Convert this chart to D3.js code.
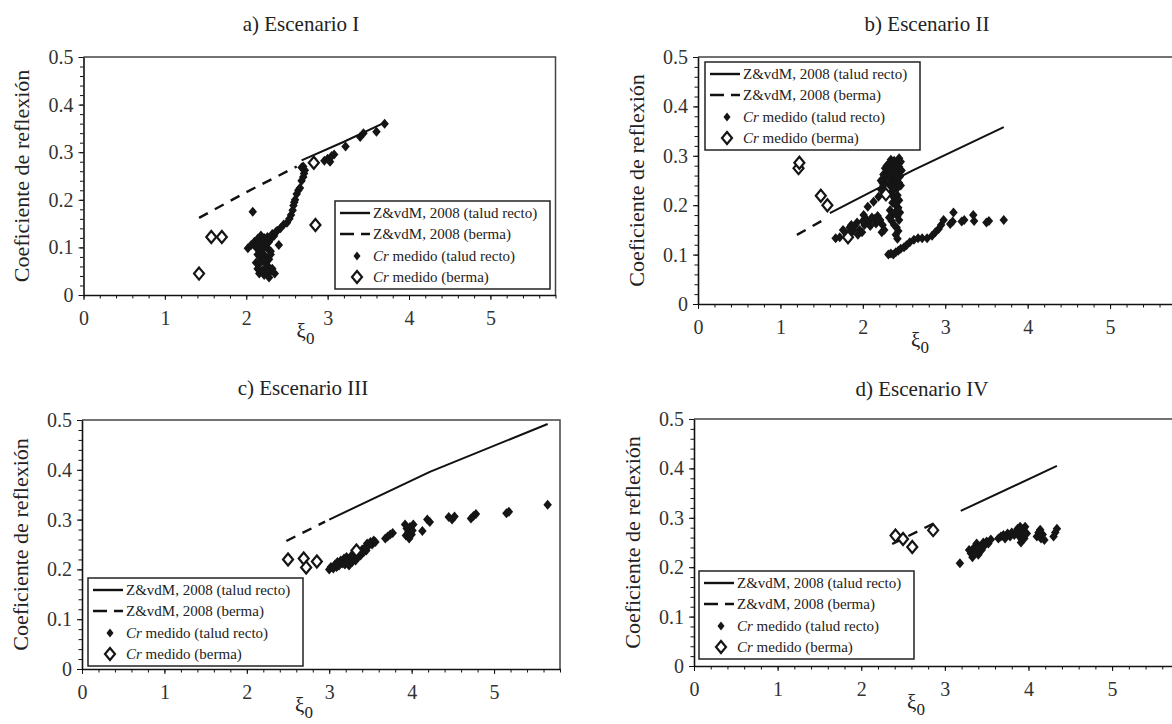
<!DOCTYPE html>
<html>
<meta charset="utf-8">
<style>
body { margin: 0; background: #fff; }
text { font-family: "Liberation Serif", "Times New Roman", serif; fill: #222; }
.axis path, .axis line { stroke: #111; }
.axis text { font-size: 20px; fill: #333; font-family: "Liberation Serif", serif; }
</style>
<svg width="1172" height="724"></svg>
<script src="https://d3js.org/d3.v7.min.js"></script>
<script>
// ---- data (xi_0, Cr) ----
var xMajor = [0, 1, 2, 3, 4, 5];
var yMajor = [0, 0.1, 0.2, 0.3, 0.4, 0.5];
var legendLabels = ["Z&vdM, 2008 (talud recto)", "Z&vdM, 2008 (berma)", "medido (talud recto)", "medido (berma)"];

// a) Escenario I
var aLineRecto = [[2.68, 0.283], [3.20, 0.322], [3.70, 0.362]];
var aLineBerma = [[1.42, 0.162], [2.00, 0.216], [2.62, 0.270]];
var aBerma = [[1.42, 0.045], [1.57, 0.122], [1.70, 0.122], [2.85, 0.147], [2.83, 0.278]];
var aRecto = [
  [2.08, 0.175],
  [2.02, 0.098], [2.06, 0.105], [2.10, 0.112], [2.12, 0.100], [2.14, 0.118], [2.16, 0.108], [2.18, 0.125],
  [2.20, 0.115], [2.22, 0.120], [2.24, 0.110], [2.26, 0.122], [2.28, 0.112], [2.30, 0.118], [2.32, 0.128],
  [2.34, 0.124], [2.36, 0.132], [2.38, 0.135], [2.40, 0.105], [2.18, 0.095], [2.22, 0.100], [2.26, 0.098], [2.30, 0.092],
  [2.14, 0.085], [2.17, 0.078], [2.20, 0.088], [2.24, 0.080], [2.28, 0.075], [2.30, 0.085], [2.12, 0.068],
  [2.16, 0.065], [2.22, 0.070], [2.26, 0.062],
  [2.14, 0.055], [2.16, 0.045], [2.20, 0.052], [2.22, 0.042], [2.25, 0.058], [2.27, 0.048], [2.28, 0.037],
  [2.30, 0.050], [2.32, 0.055], [2.35, 0.045], [2.24, 0.050],
  [2.42, 0.140], [2.46, 0.148], [2.50, 0.152], [2.53, 0.160], [2.55, 0.168], [2.57, 0.178], [2.58, 0.188],
  [2.59, 0.195], [2.60, 0.200], [2.62, 0.212], [2.64, 0.220], [2.66, 0.225], [2.68, 0.240], [2.70, 0.248],
  [2.71, 0.255], [2.72, 0.262], [2.70, 0.270], [2.68, 0.268],
  [2.96, 0.282], [3.00, 0.286], [3.03, 0.280], [3.05, 0.292], [3.08, 0.295], [3.22, 0.312], [3.40, 0.332],
  [3.44, 0.340], [3.60, 0.343], [3.70, 0.360]
];

// b) Escenario II
var bLineRecto = [[1.60, 0.184], [2.60, 0.270], [3.71, 0.358]];
var bLineBerma = [[1.20, 0.140], [1.52, 0.170]];
var bBerma = [[1.22, 0.275], [1.23, 0.286], [1.49, 0.219], [1.57, 0.200], [1.82, 0.135], [2.28, 0.222]];
var bRecto = [
  [1.67, 0.133], [1.72, 0.135], [1.76, 0.150], [1.80, 0.142], [1.84, 0.155], [1.88, 0.148], [1.90, 0.158],
  [1.93, 0.165], [1.96, 0.150], [1.99, 0.145], [2.02, 0.160], [2.05, 0.170], [2.08, 0.167], [2.11, 0.175],
  [2.14, 0.172], [2.18, 0.178], [2.21, 0.170], [2.24, 0.160], [2.26, 0.150], [2.23, 0.145],
  [1.86, 0.160], [1.94, 0.140], [2.00, 0.168], [2.09, 0.158], [2.16, 0.163],
  [2.01, 0.180], [2.06, 0.197], [2.13, 0.207], [2.19, 0.217], [2.22, 0.232], [2.24, 0.245], [2.26, 0.252],
  [2.28, 0.258], [2.30, 0.265], [2.22, 0.250], [2.25, 0.262], [2.27, 0.275], [2.29, 0.280], [2.25, 0.240],
  [2.32, 0.285], [2.34, 0.292], [2.36, 0.280], [2.38, 0.290], [2.40, 0.275], [2.42, 0.285], [2.44, 0.295], [2.46, 0.288],
  [2.31, 0.270], [2.33, 0.262], [2.35, 0.255], [2.37, 0.265], [2.39, 0.250], [2.41, 0.260], [2.43, 0.268],
  [2.45, 0.258], [2.47, 0.270], [2.36, 0.272], [2.40, 0.262], [2.44, 0.278],
  [2.32, 0.245], [2.34, 0.238], [2.36, 0.240], [2.38, 0.232], [2.40, 0.240], [2.42, 0.235], [2.44, 0.245], [2.46, 0.240],
  [2.34, 0.225], [2.38, 0.215], [2.42, 0.220], [2.44, 0.210], [2.36, 0.205], [2.40, 0.200], [2.43, 0.195],
  [2.33, 0.190], [2.36, 0.180], [2.39, 0.185], [2.42, 0.178], [2.44, 0.170], [2.35, 0.168], [2.38, 0.160],
  [2.41, 0.155], [2.43, 0.148], [2.40, 0.140], [2.42, 0.132], [2.32, 0.175], [2.45, 0.185],
  [2.31, 0.100], [2.34, 0.102], [2.37, 0.100], [2.40, 0.105], [2.43, 0.108], [2.46, 0.112], [2.50, 0.115],
  [2.53, 0.119], [2.57, 0.125], [2.62, 0.130], [2.67, 0.133], [2.72, 0.133], [2.78, 0.133], [2.84, 0.138],
  [2.88, 0.145], [2.92, 0.152], [2.95, 0.160], [2.98, 0.170], [3.06, 0.162], [3.10, 0.185], [3.09, 0.167],
  [3.20, 0.167], [3.23, 0.170], [3.34, 0.180], [3.35, 0.168], [3.50, 0.165], [3.53, 0.168], [3.71, 0.170]
];

// c) Escenario III
var cLineRecto = [[3.00, 0.300], [4.22, 0.396], [5.65, 0.492]];
var cLineBerma = [[2.48, 0.257], [2.95, 0.296]];
var cBerma = [[2.50, 0.220], [2.69, 0.222], [2.72, 0.204], [2.85, 0.216], [3.33, 0.238]];
var cRecto = [
  [3.00, 0.200], [3.02, 0.205], [3.05, 0.202], [3.07, 0.210], [3.09, 0.205], [3.10, 0.215], [3.12, 0.208],
  [3.14, 0.218], [3.16, 0.212], [3.18, 0.222], [3.19, 0.210], [3.21, 0.225], [3.22, 0.215], [3.24, 0.208],
  [3.25, 0.220], [3.27, 0.228], [3.28, 0.215], [3.30, 0.225], [3.32, 0.218], [3.33, 0.232], [3.35, 0.225],
  [3.37, 0.235], [3.38, 0.228], [3.40, 0.240], [3.42, 0.235], [3.44, 0.245], [3.45, 0.238], [3.46, 0.252],
  [3.48, 0.248], [3.50, 0.255], [3.52, 0.250], [3.54, 0.258], [3.56, 0.255],
  [3.68, 0.262], [3.71, 0.266], [3.74, 0.270], [3.77, 0.273],
  [3.92, 0.290], [3.94, 0.282], [3.96, 0.275], [3.93, 0.268], [3.97, 0.262], [4.00, 0.270], [3.98, 0.285],
  [4.01, 0.278], [4.02, 0.290],
  [4.13, 0.277], [4.19, 0.300], [4.22, 0.295],
  [4.45, 0.305], [4.49, 0.300], [4.52, 0.306],
  [4.72, 0.302], [4.75, 0.307], [4.78, 0.311],
  [5.15, 0.313], [5.18, 0.316],
  [5.65, 0.330]
];

// d) Escenario IV
var dLineRecto = [[3.19, 0.314], [4.34, 0.405]];
var dLineBerma = [[2.37, 0.247], [2.92, 0.293]];
var dBerma = [[2.41, 0.264], [2.50, 0.257], [2.61, 0.241], [2.86, 0.275]];
var dRecto = [
  [3.18, 0.208],
  [3.29, 0.235], [3.31, 0.228], [3.33, 0.220], [3.35, 0.240], [3.37, 0.232], [3.38, 0.248], [3.40, 0.225],
  [3.42, 0.242], [3.44, 0.235], [3.46, 0.250], [3.48, 0.245], [3.50, 0.252], [3.52, 0.248], [3.55, 0.256],
  [3.64, 0.258], [3.67, 0.262], [3.70, 0.265], [3.72, 0.258], [3.75, 0.268], [3.78, 0.262], [3.80, 0.270],
  [3.83, 0.265], [3.85, 0.272], [3.87, 0.278], [3.89, 0.262], [3.90, 0.282], [3.91, 0.250], [3.92, 0.270],
  [3.94, 0.278], [3.95, 0.258], [3.96, 0.282], [3.98, 0.268],
  [4.10, 0.262], [4.12, 0.270], [4.14, 0.276], [4.15, 0.258], [4.17, 0.266], [4.19, 0.255],
  [4.30, 0.262], [4.32, 0.270], [4.34, 0.278]
];

var panels = [
  {title: "a) Escenario I", left: 83.5, top: 57, width: 472, height: 238, tx: 301, ty: 31,
   lx: 335, ly: 201, recto: aRecto, berma: aBerma, lRecto: aLineRecto, lBerma: aLineBerma},
  {title: "b) Escenario II", left: 698, top: 57, width: 478, height: 247, tx: 927, ty: 31,
   lx: 705, ly: 62, recto: bRecto, berma: bBerma, lRecto: bLineRecto, lBerma: bLineBerma},
  {title: "c) Escenario III", left: 82, top: 420, width: 478, height: 249, tx: 303, ty: 395,
   lx: 88, ly: 578, recto: cRecto, berma: cBerma, lRecto: cLineRecto, lBerma: cLineBerma},
  {title: "d) Escenario IV", left: 694, top: 419, width: 485, height: 247, tx: 922, ty: 396,
   lx: 699, ly: 571, recto: dRecto, berma: dBerma, lRecto: dLineRecto, lBerma: dLineBerma}
];

var svg = d3.select("svg");
var serif = '"Liberation Serif", "Times New Roman", serif';

// diamond of given width/height for d3.symbol
function diamond(w, h) {
  return {draw: function(ctx) {
    ctx.moveTo(0, -h / 2); ctx.lineTo(w / 2, 0); ctx.lineTo(0, h / 2); ctx.lineTo(-w / 2, 0); ctx.closePath();
  }};
}
var filledSym = d3.symbol().type(diamond(8.5, 10));
var openSym = d3.symbol().type(diamond(10, 12));

function drawPanel(p) {
  var x = d3.scaleLinear().domain([0, 5.8]).range([p.left, p.left + p.width]);
  var y = d3.scaleLinear().domain([0, 0.5]).range([p.top + p.height, p.top]);
  var g = svg.append("g");

  // frame (top + right)
  g.append("path")
    .attr("d", "M" + x(0) + "," + y(0.5) + "H" + x(5.8) + "V" + y(0))
    .attr("fill", "none").attr("stroke", "#444").attr("stroke-width", 1.5);

  // minor ticks
  g.append("g").attr("class", "axis")
    .attr("transform", "translate(0," + y(0) + ")")
    .call(d3.axisBottom(x).tickValues(d3.range(0, 5.81, 0.2)).tickSize(3.5).tickFormat(""))
    .call(function(s) { s.select(".domain").remove(); });
  g.append("g").attr("class", "axis")
    .attr("transform", "translate(" + x(0) + ",0)")
    .call(d3.axisLeft(y).tickValues(d3.range(0, 0.501, 0.02)).tickSize(3.5).tickFormat(""))
    .call(function(s) { s.select(".domain").remove(); });

  // major axes
  g.append("g").attr("class", "axis")
    .attr("transform", "translate(0," + y(0) + ")")
    .call(d3.axisBottom(x).tickValues(xMajor).tickSizeInner(5).tickSizeOuter(0).tickPadding(11).tickFormat(d3.format("d")))
    .call(function(s) {
      s.select(".domain").attr("stroke-width", 1.6);
      s.selectAll("text").style("font-family", serif).style("font-size", "20px");
    });
  g.append("g").attr("class", "axis")
    .attr("transform", "translate(" + x(0) + ",0)")
    .call(d3.axisLeft(y).tickValues(yMajor).tickSizeInner(5).tickSizeOuter(0).tickPadding(5)
      .tickFormat(function(d) { return d === 0 ? "0" : d3.format(".1f")(d); }))
    .call(function(s) {
      s.select(".domain").attr("stroke-width", 1.6);
      s.selectAll("text").style("font-family", serif).style("font-size", "20px");
    });

  // titles
  g.append("text").attr("x", p.tx).attr("y", p.ty).attr("text-anchor", "middle")
    .style("font-family", serif).style("font-size", "21px").text(p.title);
  g.append("text")
    .attr("transform", "translate(" + (p.left - 62) + "," + (p.top + p.height / 2) + ") rotate(-90)")
    .attr("text-anchor", "middle").attr("dy", "0.35em")
    .style("font-family", serif).style("font-size", "22px").text("Coeficiente de reflexión");
  var xl = g.append("text").attr("x", p.left + 222).attr("y", y(0) + 43)
    .attr("text-anchor", "middle").style("font-family", serif).style("font-size", "21px");
  xl.append("tspan").text("ξ");
  xl.append("tspan").attr("dy", 6).style("font-size", "17px").text("0");

  // model lines
  var line = d3.line().x(function(d) { return x(d[0]); }).y(function(d) { return y(d[1]); });
  g.append("path").datum(p.lRecto).attr("d", line)
    .attr("fill", "none").attr("stroke", "#111").attr("stroke-width", 2);
  g.append("path").datum(p.lBerma).attr("d", line)
    .attr("fill", "none").attr("stroke", "#111").attr("stroke-width", 2.4).attr("stroke-dasharray", "10,8");

  // measured points
  g.selectAll(".recto").data(p.recto).enter().append("path")
    .attr("class", "recto")
    .attr("transform", function(d) { return "translate(" + x(d[0]) + "," + y(d[1]) + ")"; })
    .attr("d", filledSym).attr("fill", "#151515");
  g.selectAll(".berma").data(p.berma).enter().append("path")
    .attr("class", "berma")
    .attr("transform", function(d) { return "translate(" + x(d[0]) + "," + y(d[1]) + ")"; })
    .attr("d", openSym).attr("fill", "#fff").attr("stroke", "#151515").attr("stroke-width", 2.2);

  // legend
  var lg = g.append("g").attr("transform", "translate(" + p.lx + "," + p.ly + ")");
  lg.append("rect").attr("width", 215).attr("height", 88)
    .attr("fill", "#fff").attr("stroke", "#222").attr("stroke-width", 1.5);
  var rows = [12, 33, 55, 76];
  lg.append("line").attr("x1", 5).attr("x2", 35).attr("y1", rows[0]).attr("y2", rows[0])
    .attr("stroke", "#111").attr("stroke-width", 2.4);
  lg.append("line").attr("x1", 5).attr("x2", 35).attr("y1", rows[1]).attr("y2", rows[1])
    .attr("stroke", "#111").attr("stroke-width", 2.6).attr("stroke-dasharray", "14,7");
  lg.append("path").attr("transform", "translate(22," + rows[2] + ")")
    .attr("d", d3.symbol().type(diamond(7, 9))).attr("fill", "#151515");
  lg.append("path").attr("transform", "translate(22," + rows[3] + ")")
    .attr("d", openSym).attr("fill", "#fff").attr("stroke", "#151515").attr("stroke-width", 2.2);
  legendLabels.forEach(function(lab, i) {
    var t = lg.append("text").attr("x", 38).attr("y", rows[i] + 5)
      .style("font-family", serif).style("font-size", "15px");
    if (i >= 2) {
      t.append("tspan").style("font-style", "italic").text("Cr");
      t.append("tspan").text(" " + lab);
    } else {
      t.text(lab);
    }
  });
}

panels.forEach(drawPanel);
</script>
</html>
